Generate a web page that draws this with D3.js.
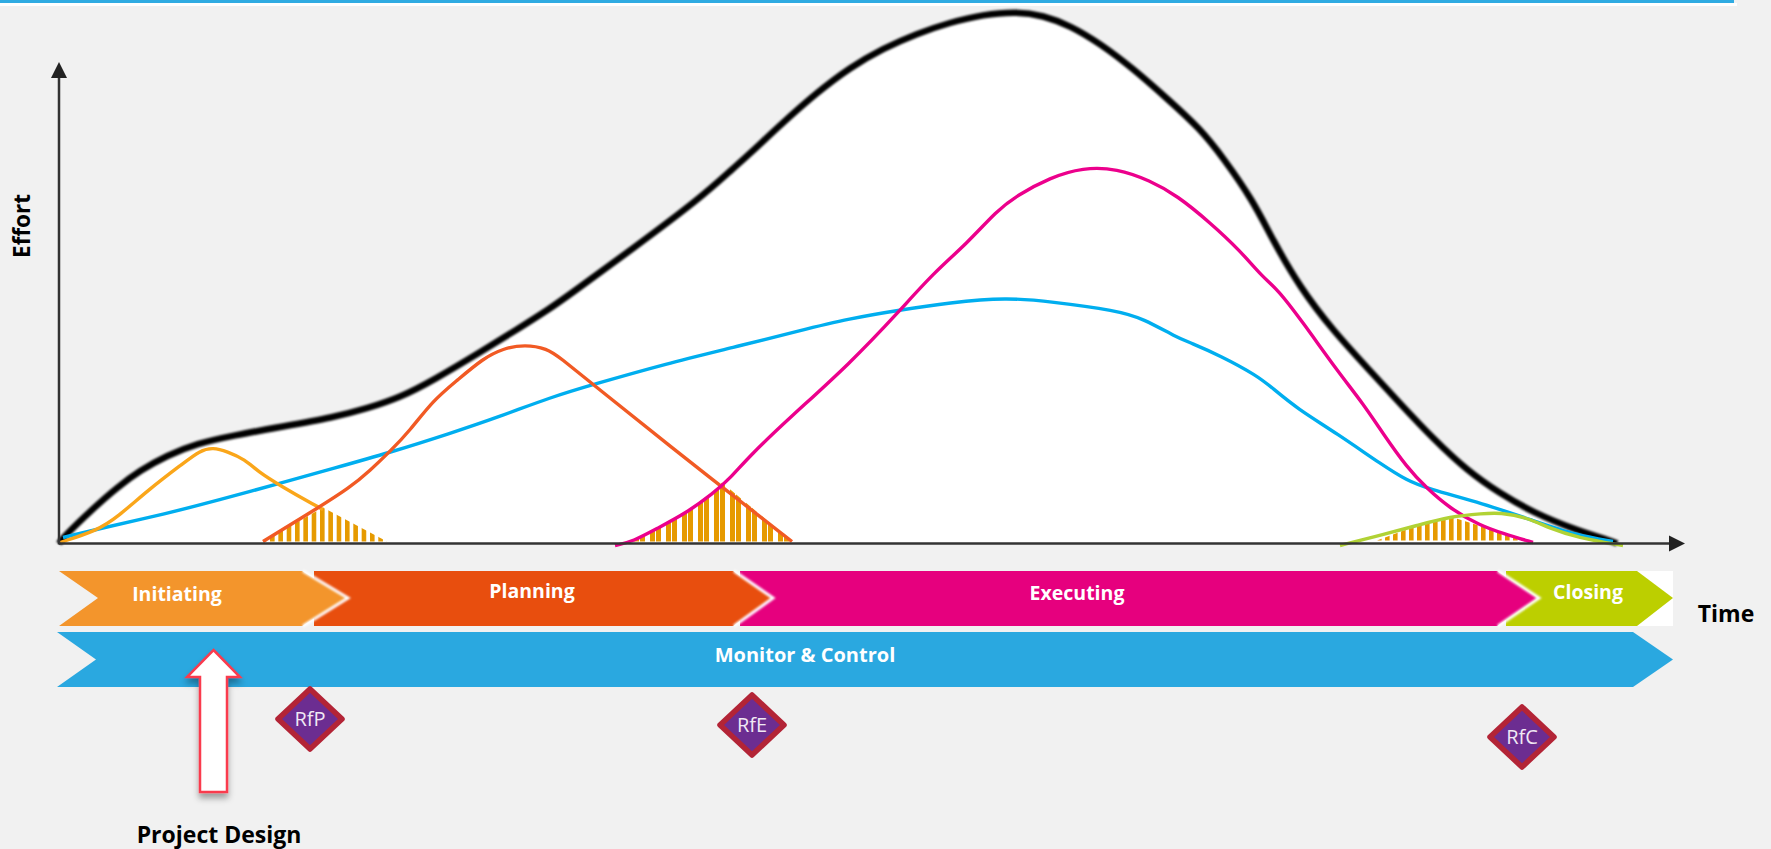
<!DOCTYPE html>
<html>
<head>
<meta charset="utf-8">
<title>Project effort over time</title>
<script src="https://cdnjs.cloudflare.com/ajax/libs/d3/7.8.5/d3.min.js"></script>
<style>
  html, body { margin: 0; padding: 0; background: #f1f1f1; }
  svg { display: block; }
  text { font-family: "Open Sans", Lato, sans-serif; }
</style>
</head>
<body>
<svg id="chart" width="1771" height="849"></svg>
<script>
// Effort curves as [time, effort] pairs
const totalEffort = [[0,0],[4,6],[34,35],[58,56],[81,73],[108,88],[138,100],[174,108],[224,117],[274,126],[308,135],[341,146],[374,163],[424,193],[458,214],[491,235],[508,247],[574,295],[641,345],[674,375],[691,390],[724,421],[758,451],[791,476],[824,495],[858,510],[891,521],[924,529],[958,532],[984,528],[1011,518],[1041,500],[1074,475],[1108,445],[1141,415],[1164,386],[1194,343],[1214,303],[1241,256],[1274,213],[1308,176],[1341,140],[1374,105],[1408,73],[1441,50],[1474,31],[1518,13],[1554,2],[1558,0]];
const monitorEffort = [[4,6],[41,15],[108,30],[158,43],[224,61],[274,75],[331,91],[391,110],[441,127],[491,146],[534,159],[608,180],[674,196],[741,213],[791,225],[838,233],[891,241],[948,246],[991,242],[1058,233],[1084,225],[1118,206],[1131,201],[1161,188],[1198,168],[1214,155],[1238,135],[1278,110],[1324,78],[1348,63],[1368,55],[1424,40],[1474,23],[1518,8],[1554,2]];
const initiatingEffort = [[1,1],[38,13],[58,26],[91,55],[124,80],[141,93],[154,96],[168,92],[186,84],[199,72],[221,58],[258,37],[264,34]];
const planningEffort = [[204,2],[258,35],[291,56],[311,73],[331,92],[351,113],[374,143],[398,163],[424,185],[444,195],[466,199],[488,195],[501,186],[534,159],[658,60],[733,2]];
const executingEffort = [[556,-2],[574,2],[598,15],[628,31],[654,50],[671,65],[691,88],[731,126],[791,180],[841,233],[874,270],[908,300],[938,333],[958,348],[991,366],[1024,376],[1058,375],[1091,363],[1118,348],[1151,321],[1181,293],[1204,266],[1218,255],[1244,221],[1278,173],[1304,140],[1324,110],[1348,76],[1368,55],[1391,35],[1421,18],[1444,10],[1474,1]];
const closingEffort = [[1281,-2],[1324,9],[1358,18],[1391,27],[1424,30],[1441,31],[1468,26],[1491,15],[1518,6],[1564,-2]];

// Overlap regions between neighbouring phases
const overlapPlanning = [[204,2],[264,36],[328,2]];
const overlapExecuting = [[571,2],[598,15],[628,31],[654,50],[663,61],[733,2]];
const overlapClosing = [[1318,3],[1358,18],[1391,27],[1468,3]];

// Phase bands: name, start, end of body, end of point
const phaseNames = ["Initiating", "Planning", "Executing", "Closing"];
const phaseStarts = [0, 255, 681, 1447];
const phaseBodyEnds = [243, 674, 1438, 1578];
const phaseTips = [288, 713, 1479, 1614];
const monitorName = "Monitor & Control";
const monitorSpan = [-2, 37, 1574, 1614];

const milestoneNames = ["RfP", "RfE", "RfC"];
const milestoneTimes = [251, 693, 1463];

const svg = d3.select("#chart");
const defs = svg.append("defs");

const x = d3.scaleLinear().domain([0, 1626]).range([59, 1685]);
const y = d3.scaleLinear().domain([0, 543]).range([543.5, 0.5]);

defs.append("filter").attr("id", "soft").attr("x", "-5%").attr("y", "-5%").attr("width", "110%").attr("height", "110%")
  .append("feGaussianBlur").attr("stdDeviation", 0.8);
defs.append("filter").attr("id", "edge").attr("x", "-50%").attr("y", "-10%").attr("width", "200%").attr("height", "120%")
  .append("feGaussianBlur").attr("stdDeviation", 0.8);
const shadow = defs.append("filter").attr("id", "liftShadow").attr("x", "-40%").attr("y", "-10%").attr("width", "180%").attr("height", "125%");
shadow.append("feDropShadow").attr("dx", 0).attr("dy", 5).attr("stdDeviation", 3)
  .attr("flood-color", "#000").attr("flood-opacity", 0.35);

// Stripe fills: [id, left edge, period, stripe offsets, stripe width]
const stripeFills = [
  ["stripeA", 320, 8.33, [0], 4.6],
  ["stripeB", 650, 16, [0, 6], 5],
  ["stripeC", 1401, 8, [0], 4.6]
];
stripeFills.forEach(([id, left, period, offsets, w]) => {
  const p = defs.append("pattern").attr("id", id).attr("patternUnits", "userSpaceOnUse")
    .attr("x", left).attr("y", 0).attr("width", period).attr("height", 10);
  offsets.forEach(o => p.append("rect").attr("x", o).attr("y", 0).attr("width", w).attr("height", 10).attr("fill", "#e69a00"));
});

// Page rule across the top
svg.append("rect").attr("x", 0).attr("y", 3).attr("width", 1737).attr("height", 3).attr("fill", "#ffffff");
svg.append("rect").attr("x", 0).attr("y", 0).attr("width", 1734).attr("height", 3).attr("fill", "#2fabe2");

const line = d3.line().x(d => x(d[0])).y(d => y(d[1])).curve(d3.curveBasis);
const straight = d3.line().x(d => x(d[0])).y(d => y(d[1]));
const area = d3.area().x(d => x(d[0])).y0(y(0)).y1(d => y(d[1])).curve(d3.curveBasis);

// White body under the total effort curve
svg.append("path").attr("d", area(totalEffort)).attr("fill", "#ffffff");

// Hatched overlaps
[[overlapPlanning, "stripeA"], [overlapExecuting, "stripeB"], [overlapClosing, "stripeC"]].forEach(([pts, id]) => {
  svg.append("path").attr("d", straight(pts) + "Z").attr("fill", `url(#${id})`);
});

// Axes carry no ticks, only the domain line and an arrow head
const xAxis = d3.axisBottom(x).tickValues([]).tickSize(0);
const yAxis = d3.axisLeft(y.copy().domain([0, 465]).range([543.5, 78.5])).tickValues([]).tickSize(0);

svg.append("path").attr("d", line(totalEffort)).attr("fill", "none")
  .attr("stroke", "#000").attr("stroke-width", 6.5).attr("filter", "url(#soft)");

const curves = [
  [monitorEffort, "#00aeef"],
  [initiatingEffort, "#faa61a"],
  [planningEffort, "#f15a24"],
  [executingEffort, "#ec008c"],
  [closingEffort, "#b1d235"]
];
curves.forEach(([pts, colour]) => {
  svg.append("path").attr("d", line(pts)).attr("fill", "none")
    .attr("stroke", colour).attr("stroke-width", 3.4);
});

const xg = svg.append("g").attr("transform", `translate(0,${y(0)})`).call(xAxis);
xg.select(".domain").attr("d", `M${x(0)},0H${x(1612)}`).attr("stroke", "#333").attr("stroke-width", 2.5);
const yg = svg.append("g").attr("transform", `translate(${x(0)},0)`).call(yAxis);
yg.select(".domain").attr("d", `M0,${y(0) + 1}V78`).attr("stroke", "#333").attr("stroke-width", 2.5);
svg.append("path").attr("d", `M${x(1626)},${y(0)}l-16,-8v16Z`).attr("fill", "#222");
svg.append("path").attr("d", `M${x(0)},62l-8,16h16Z`).attr("fill", "#222");

// Phase chevrons, drawn last to first so each point overlaps the next phase
const phaseColours = ["#f3952c", "#e84e0e", "#e6007e", "#bccf00"];
const bandTop = 571, bandBottom = 626, bandMid = 598;
const notchDepth = 39;

svg.append("rect").attr("x", x(phaseStarts[3])).attr("y", bandTop)
  .attr("width", x(phaseTips[3]) - x(phaseStarts[3])).attr("height", bandBottom - bandTop).attr("fill", "#fff");

d3.range(phaseNames.length - 1, -1, -1).forEach(i => {
  const s = x(phaseStarts[i]), b = x(phaseBodyEnds[i]), t = x(phaseTips[i]);
  const left = i === 0 ? `L${s + notchDepth},${bandMid}` : "";
  svg.append("path")
    .attr("d", `M${s},${bandTop}H${b}L${t},${bandMid}L${b},${bandBottom}H${s}${left}Z`)
    .attr("fill", phaseColours[i]);
  if (i < phaseNames.length - 1) {
    svg.append("path")
      .attr("d", `M${b + 1},${bandTop}L${t + 1},${bandMid}L${b + 1},${bandBottom}`)
      .attr("fill", "none").attr("stroke", "#fff").attr("stroke-width", 3).attr("filter", "url(#edge)");
  }
});

// Monitor & Control runs under all phases
const [mS, mN, mB, mT] = monitorSpan.map(x);
svg.append("path")
  .attr("d", `M${mS},632H${mB}L${mT},659.5L${mB},687H${mS}L${mN},659.5Z`)
  .attr("fill", "#2aa8e0");

// Band labels
const labelPos = [[177, 594], [532, 591], [1077, 593], [1588, 592]];
phaseNames.forEach((name, i) => {
  svg.append("text").attr("x", labelPos[i][0]).attr("y", labelPos[i][1]).attr("dy", "0.35em")
    .attr("text-anchor", "middle").attr("fill", "#fff").attr("font-weight", 700).attr("font-size", 19.5).text(name);
});
svg.append("text").attr("x", 805).attr("y", 655).attr("dy", "0.35em").attr("text-anchor", "middle")
  .attr("fill", "#fff").attr("font-weight", 700).attr("font-size", 20).text(monitorName);

// Project Design marker
svg.append("path")
  .attr("d", "M213.5,650L240,677H227V792H200V677H187Z")
  .attr("fill", "#fff").attr("stroke", "#fa3a4e").attr("stroke-width", 2.5).attr("stroke-linejoin", "miter")
  .attr("filter", "url(#liftShadow)");

// Milestone diamonds
const milestoneLevels = [719, 725, 737];
milestoneNames.forEach((name, i) => {
  const cx = x(milestoneTimes[i]), cy = milestoneLevels[i];
  svg.append("path").attr("d", `M${cx},${cy - 30}L${cx + 32},${cy}L${cx},${cy + 30}L${cx - 32},${cy}Z`)
    .attr("fill", "#6c2d91").attr("stroke", "#b32436").attr("stroke-width", 5.5).attr("stroke-linejoin", "round");
  svg.append("text").attr("x", cx).attr("y", cy).attr("dy", "0.36em").attr("text-anchor", "middle")
    .attr("fill", "#f0e8f4").attr("font-size", 20).text(name);
});

// Axis titles and the marker caption
svg.append("text").attr("transform", "translate(22,226) rotate(-90)").attr("dy", "0.35em").attr("text-anchor", "middle")
  .attr("fill", "#000").attr("font-weight", 700).attr("font-size", 22.5).text("Effort");
svg.append("text").attr("x", 1726).attr("y", 614).attr("dy", "0.35em").attr("text-anchor", "middle")
  .attr("fill", "#000").attr("font-weight", 700).attr("font-size", 23).text("Time");
svg.append("text").attr("x", 219).attr("y", 835).attr("dy", "0.35em").attr("text-anchor", "middle")
  .attr("fill", "#000").attr("font-weight", 700).attr("font-size", 23).text("Project Design");
</script>
</body>
</html>
